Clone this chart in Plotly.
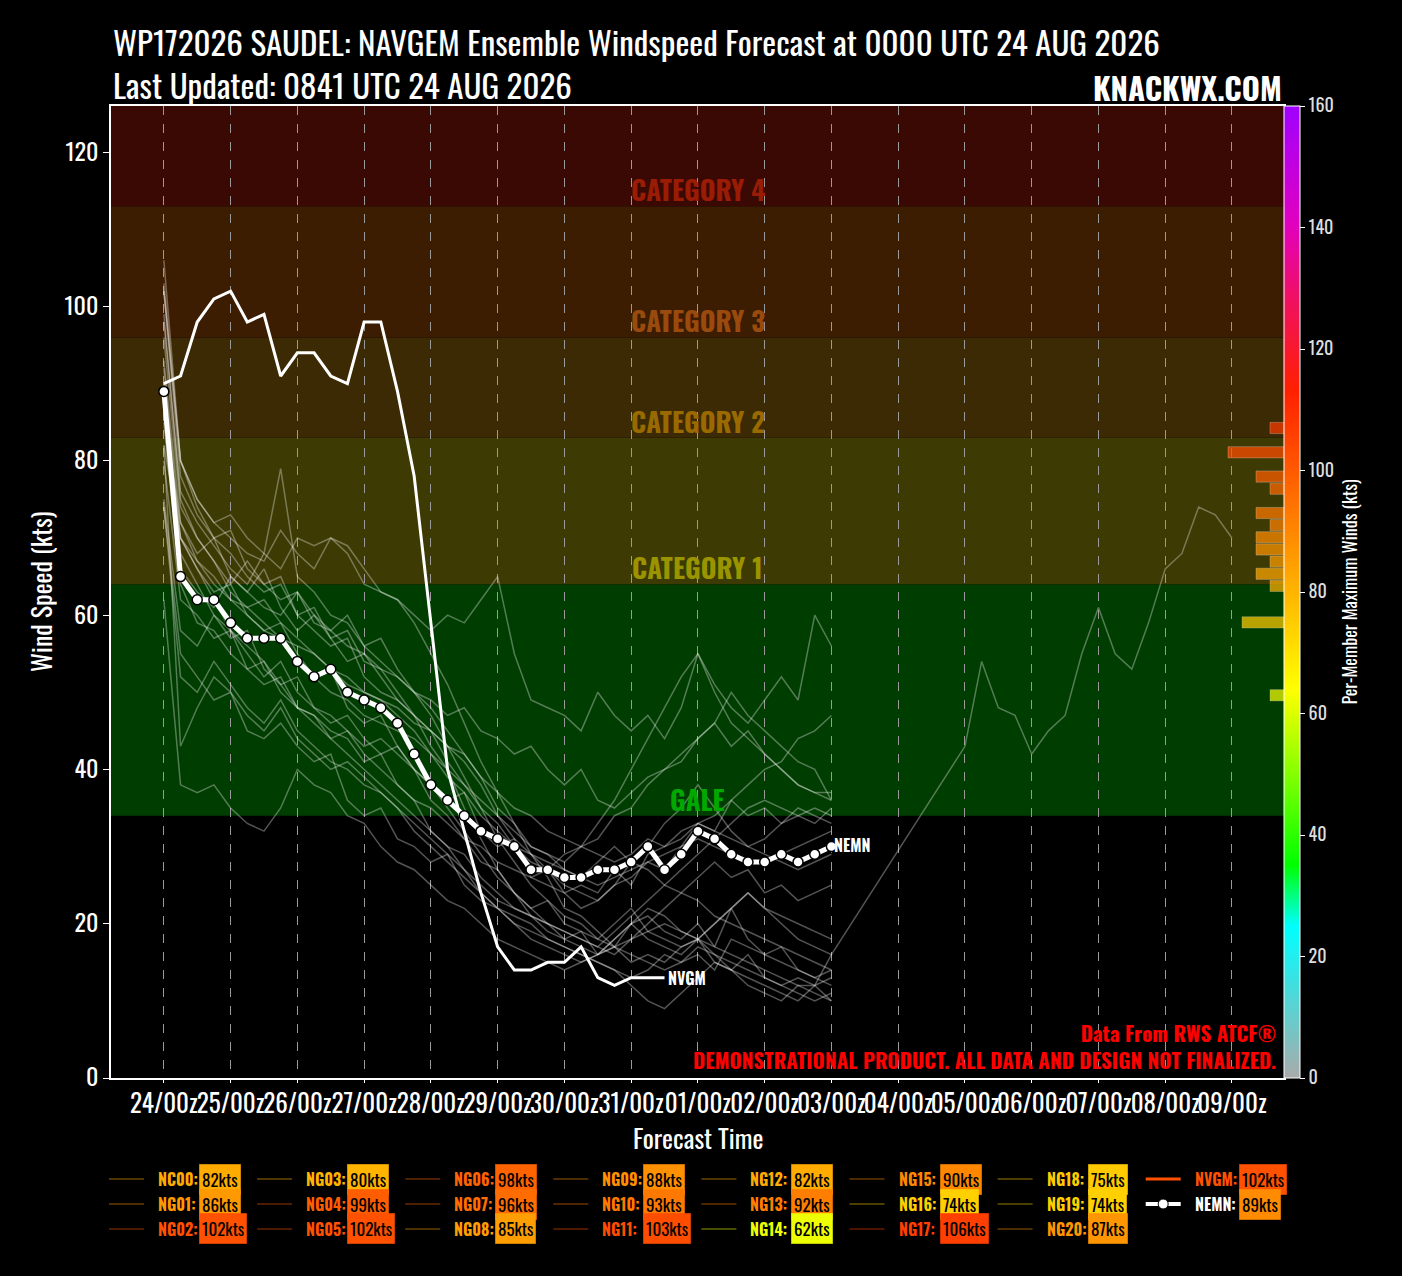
import numpy as np
import plotly.graph_objects as go
from plotly.colors import sample_colorscale

# forecast hours (6-hourly) for the ensemble members
FHR = list(range(0, 241, 6))

NC00 = [82, 70, 66, 63, 64, 60, 58, 59, 55, 52, 53, 48, 46, 47, 43, 40, 36, 34, 31, 28, 27,
        24, 22, 23, 20, 19, 18, 20, 22, 19, 18, 17, 18, 15, 14, 16, 13, 12, 13, 12, 16]
NG01 = [86, 72, 68, 70, 65, 63, 66, 61, 58, 60, 57, 54, 55, 52, 49, 47, 45, 41, 38, 35, 33,
        30, 28, 27, 24, 22, 23, 25, 26, 28, 27, 30, 33, 32, 36, 38, 40, 41, 44, 45, 47]
NG02 = [102, 78, 73, 70, 71, 66, 64, 65, 60, 61, 57, 58, 54, 53, 50, 47, 43, 40, 35, 31, 27,
        24, 21, 20, 18, 19, 16, 17, 20, 21, 19, 18, 20, 17, 22, 18, 16, 17, 14, 13, 14]
NG03 = [80, 62, 60, 57, 58, 53, 51, 52, 48, 47, 45, 44, 41, 42, 38, 36, 35, 33, 31, 30, 28,
        27, 26, 27, 29, 30, 31, 34, 35, 38, 40, 41, 44, 46, 50, 47, 45, 43, 41, 40, 36]
NG04 = [99, 75, 70, 67, 64, 67, 64, 62, 63, 59, 58, 60, 56, 54, 52, 50, 47, 43, 39, 35, 31,
        28, 25, 23, 21, 20, 18, 17, 15, 16, 15, 17, 18, 16, 14, 13, 12, 11, 10, 12, 10]
NG05 = [102, 80, 75, 72, 70, 68, 67, 71, 68, 66, 70, 69, 66, 63, 62, 59, 55, 51, 46, 41, 37,
        33, 29, 26, 22, 21, 19, 17, 16, 15, 14, 15, 16, 14, 18, 17, 16, 15, 14, 13, 12]
NG06 = [98, 76, 72, 69, 66, 64, 68, 79, 65, 63, 60, 59, 56, 57, 53, 50, 48, 45, 42, 39, 35,
        33, 30, 29, 27, 26, 28, 30, 28, 27, 25, 24, 26, 28, 26, 27, 24, 25, 23, 24, 25]
NG07 = [96, 74, 70, 67, 63, 61, 62, 59, 57, 55, 53, 51, 50, 49, 48, 46, 45, 43, 41, 38, 34,
        31, 29, 27, 25, 24, 23, 25, 28, 30, 33, 35, 38, 35, 32, 30, 31, 33, 35, 34, 33]
NG08 = [85, 64, 59, 58, 55, 53, 54, 51, 48, 47, 44, 45, 42, 40, 38, 36, 32, 30, 29, 26, 24,
        22, 21, 19, 18, 17, 16, 18, 20, 18, 17, 16, 18, 20, 22, 24, 22, 21, 20, 19, 18]
NG09 = [88, 70, 67, 64, 62, 61, 59, 57, 54, 52, 50, 49, 47, 46, 45, 44, 42, 40, 38, 36, 34,
        32, 30, 29, 28, 30, 33, 36, 40, 44, 48, 52, 55, 51, 48, 46, 49, 52, 49, 60, 56]
NG10 = [93, 72, 67, 65, 62, 60, 58, 57, 56, 55, 53, 52, 50, 49, 47, 45, 42, 39, 37, 34, 32,
        30, 29, 28, 27, 26, 25, 26, 27, 28, 29, 30, 31, 30, 29, 28, 28, 29, 30, 31, 32]
NG11 = [103, 80, 75, 72, 73, 70, 68, 66, 70, 69, 70, 68, 64, 63, 62, 60, 58, 60, 59, 62, 65,
        55, 49, 48, 47, 45, 50, 47, 45, 47, 44, 48, 55, 50, 46, 44, 42, 40, 38, 37, 36]
NG12 = [82, 43, 48, 52, 50, 47, 45, 48, 44, 42, 40, 41, 39, 37, 35, 32, 30, 28, 26, 24, 22,
        21, 20, 18, 17, 16, 15, 14, 12, 10, 9, 11, 13, 15, 14, 12, 11, 10, 12, 11, 10]
NG13 = [92, 70, 66, 62, 58, 56, 54, 50, 48, 46, 44, 42, 40, 38, 36, 34, 32, 30, 27, 24, 22,
        20, 18, 17, 16, 15, 16, 18, 20, 22, 21, 19, 18, 20, 22, 24, 22, 20, 18, 17, 16]
NG14 = [62, 38, 37, 38, 35, 33, 32, 35, 40, 38, 37, 34, 33, 30, 28, 27, 25, 23, 22, 20, 18,
        17, 16, 15, 14, 15, 16, 17, 18, 19, 20, 19, 18, 17, 16, 15, 14, 13, 12, 12, 13]
NG15 = [90, 68, 64, 60, 57, 58, 53, 51, 52, 48, 46, 47, 44, 42, 43, 40, 38, 36, 37, 32, 30,
        31, 26, 25, 24, 25, 24, 27, 25, 29, 30, 31, 33, 34, 36, 34, 35, 33, 34, 35, 34]
NG16 = [74, 55, 52, 49, 50, 45, 44, 46, 43, 41, 42, 36, 34, 35, 31, 30, 28, 29, 25, 23, 22,
        20, 19, 18, 17, 16, 15, 14, 13, 14, 16, 15, 17, 16, 15, 14, 13, 12, 11, 10, 11]
NG17 = [106, 80, 74, 70, 68, 65, 63, 64, 60, 58, 56, 57, 52, 50, 49, 47, 45, 43, 42, 39, 37,
        35, 34, 32, 31, 30, 29, 28, 29, 31, 30, 32, 33, 32, 31, 30, 29, 28, 27, 28, 29]
NG18 = [75, 58, 56, 60, 58, 55, 52, 54, 50, 48, 47, 45, 43, 44, 42, 40, 38, 35, 32, 29, 26,
        24, 22, 20, 19, 18, 17, 16, 18, 20, 22, 24, 23, 21, 20, 19, 18, 17, 16, 15, 14]
NG19 = [74, 52, 50, 54, 51, 48, 46, 49, 45, 43, 41, 40, 38, 37, 35, 33, 31, 29, 27, 25, 23,
        22, 21, 20, 19, 18, 17, 19, 21, 23, 25, 27, 29, 31, 33, 35, 36, 35, 34, 33, 35]
NG20 = [87, 66, 63, 61, 65, 63, 61, 60, 63, 60, 58, 56, 55, 53, 52, 50, 49, 47, 48, 45, 44,
        42, 43, 40, 38, 40, 36, 35, 37, 39, 40, 42, 44, 46, 43, 45, 42, 40, 38, 37, 37]

# control member runs past 240h
NC00_EXT_FHR = list(range(288, 385, 6))
NC00_EXT = [43, 54, 48, 47, 42, 45, 47, 55, 61, 55, 53, 59, 66, 68, 74, 73, 70]

NVGM_FHR = list(range(0, 181, 6))
NVGM = [90, 91, 98, 101, 102, 98, 99, 91, 94, 94, 91, 90, 98, 98, 89, 78, 59, 40, 32, 24,
        17, 14, 14, 15, 15, 17, 13, 12, 13, 13, 13]
NEMN = [89, 65, 62, 62, 59, 57, 57, 57, 54, 52, 53, 50, 49, 48, 46, 42, 38, 36, 34, 32, 31,
        30, 27, 27, 26, 26, 27, 27, 28, 30, 27, 29, 32, 31, 29, 28, 28, 29, 28, 29, 30]

MEMBER_NAMES = ["NC00", "NG01", "NG02", "NG03", "NG04", "NG05", "NG06", "NG07", "NG08",
                "NG09", "NG10", "NG11", "NG12", "NG13", "NG14", "NG15", "NG16", "NG17",
                "NG18", "NG19", "NG20"]
MEMBER_VALUES = [NC00, NG01, NG02, NG03, NG04, NG05, NG06, NG07, NG08, NG09, NG10, NG11,
                 NG12, NG13, NG14, NG15, NG16, NG17, NG18, NG19, NG20]
MEMBER_MAX = [82, 86, 102, 80, 99, 102, 98, 96, 85, 88, 93, 103, 82, 92, 62, 90, 74, 106,
              75, 74, 87]
NVGM_MAX = 102
NEMN_MAX = 89

TICK_HOURS = list(range(0, 385, 24))
TICK_LABELS = ["24/00z", "25/00z", "26/00z", "27/00z", "28/00z", "29/00z", "30/00z",
               "31/00z", "01/00z", "02/00z", "03/00z", "04/00z", "05/00z", "06/00z",
               "07/00z", "08/00z", "09/00z"]

BAND_LOW = [34, 64, 83, 96, 113]
BAND_HIGH = [64, 83, 96, 113, 200]
BAND_NAMES = ["GALE", "CATEGORY 1", "CATEGORY 2", "CATEGORY 3", "CATEGORY 4"]

# styling
FONT = "Oswald, 'Liberation Sans Narrow', 'DejaVu Sans Condensed', 'Roboto Condensed', sans-serif"
BAND_FILL = ["#003d00", "#3d3a03", "#3b2a03", "#3d1d02", "#3b0904"]
BAND_TEXT = ["#00a800", "#9a9400", "#9a6a00", "#9a4a0c", "#9a1c04"]
WIND_CS = [[0.0, "#aaaaaa"], [0.156, "#00ffff"], [0.219, "#00ff00"], [0.31, "#80ff00"],
           [0.40, "#ffff00"], [0.50, "#ffb400"], [0.625, "#ff5a00"], [0.706, "#ff2000"],
           [0.80, "#f01060"], [0.88, "#e000c0"], [1.0, "#a000ff"]]


def wind_color(v):
    return sample_colorscale(WIND_CS, [min(max(v / 160, 0), 1)])[0]


def rgba(col, a):
    r, g, b = [int(float(c)) for c in col[col.find("(") + 1:-1].split(",")]
    return f"rgba({r},{g},{b},{a})"


fig = go.Figure()

# spaghetti
for name, vals in zip(MEMBER_NAMES, MEMBER_VALUES):
    xs, ys = FHR, vals
    if name == "NC00":
        xs = FHR + NC00_EXT_FHR
        ys = vals + NC00_EXT
    fig.add_trace(go.Scatter(x=xs, y=ys, mode="lines", name=name, showlegend=False,
                             line=dict(color="rgba(255,255,255,0.33)", width=1.5),
                             hoverinfo="skip"))

fig.add_trace(go.Scatter(x=NVGM_FHR, y=NVGM, mode="lines", showlegend=False,
                         line=dict(color="white", width=3), hoverinfo="skip"))
fig.add_trace(go.Scatter(x=FHR, y=NEMN, mode="lines+markers", showlegend=False,
                         line=dict(color="white", width=5),
                         marker=dict(size=10, color="white", line=dict(color="black", width=1.5)),
                         hoverinfo="skip"))

# histogram of per-member maxima on colorbar scale
all_max = MEMBER_MAX + [NVGM_MAX, NEMN_MAX]
counts, edges = np.histogram(all_max, bins=np.arange(0, 162, 2))
centers = edges[:-1] + 1
keep = counts > 0
fig.add_trace(go.Bar(
    x=counts[keep], y=centers[keep], orientation="h", width=1.85,
    xaxis="x2", yaxis="y2", showlegend=False, opacity=0.72, hoverinfo="skip",
    marker=dict(color=centers[keep], colorscale=WIND_CS, cmin=0, cmax=160,
                line=dict(color="rgba(255,255,255,0.35)", width=1))))

# colorbar
fig.add_trace(go.Scatter(
    x=[None], y=[None], mode="markers", showlegend=False, hoverinfo="skip",
    marker=dict(color=[0], colorscale=WIND_CS, cmin=0, cmax=160, showscale=True,
                colorbar=dict(x=1.0, xanchor="left", xpad=0, y=0.5, yanchor="middle",
                              len=1, ypad=0, thickness=16, outlinecolor="white",
                              outlinewidth=1, tickvals=list(range(0, 161, 20)),
                              ticks="outside", ticklen=5, tickcolor="white",
                              tickfont=dict(family=FONT, size=18, color="#dddddd"),
                              title=dict(text="Per-Member Maximum Winds (kts)", side="right",
                                         font=dict(family=FONT, size=18, color="white")))))
)

shapes = []
annotations = []
for lo, hi, name, fill, tcol in zip(BAND_LOW, BAND_HIGH, BAND_NAMES, BAND_FILL, BAND_TEXT):
    shapes.append(dict(type="rect", xref="paper", yref="y", x0=0, x1=1, y0=lo, y1=hi,
                       fillcolor=fill, line=dict(width=0), layer="below"))
    annotations.append(dict(xref="paper", yref="y", x=0.5, y=lo, yanchor="bottom", yshift=-5,
                            text=f"<b>{name}</b>", showarrow=False,
                            font=dict(family=FONT, size=27, color=tcol)))

annotations.append(dict(x=NVGM_FHR[-1], y=NVGM[-1], xref="x", yref="y", xanchor="left",
                        xshift=1, text="<b>NVGM</b>", showarrow=False,
                        font=dict(family=FONT, size=16, color="white")))
annotations.append(dict(x=FHR[-1], y=NEMN[-1], xref="x", yref="y", xanchor="left",
                        xshift=1, yshift=2, text="<b>NEMN</b>", showarrow=False,
                        font=dict(family=FONT, size=16, color="white")))

# titles
PL, PR, PT, PB = 111, 1284, 106, 1078


def px(x):
    return (x - PL) / (PR - PL)


def py(y):
    return (PB - y) / (PB - PT)


annotations += [
    dict(xref="paper", yref="paper", x=0, y=py(41), xanchor="left", yanchor="middle",
         text="WP172026 SAUDEL: NAVGEM Ensemble Windspeed Forecast at 0000 UTC 24 AUG 2026",
         showarrow=False, font=dict(family=FONT, size=33, color="white")),
    dict(xref="paper", yref="paper", x=0, y=py(84), xanchor="left", yanchor="middle",
         text="Last Updated: 0841 UTC 24 AUG 2026",
         showarrow=False, font=dict(family=FONT, size=33, color="white")),
    dict(xref="paper", yref="paper", x=1, y=py(87), xanchor="right", yanchor="middle",
         text="<b>KNACKWX.COM</b>", showarrow=False,
         font=dict(family=FONT, size=31, color="white")),
    dict(xref="paper", yref="paper", x=px(40), y=0.5, xanchor="center", yanchor="middle",
         textangle=-90, text="Wind Speed (kts)", showarrow=False,
         font=dict(family=FONT, size=26, color="white")),
    dict(xref="paper", yref="paper", x=0.5, y=py(1137), yanchor="middle",
         text="Forecast Time", showarrow=False,
         font=dict(family=FONT, size=26, color="white")),
    dict(xref="paper", yref="paper", x=px(1278), y=py(1046), xanchor="right",
         yanchor="middle", align="right",
         text="<b>Data From RWS ATCF®<br>DEMONSTRATIONAL PRODUCT. ALL DATA AND DESIGN NOT FINALIZED.</b>",
         showarrow=False, font=dict(family=FONT, size=21, color="#ff0000")),
]

# hand-built legend
legend_items = [(n, m, "member") for n, m in zip(MEMBER_NAMES, MEMBER_MAX)]
legend_items += [("NVGM", NVGM_MAX, "nvgm"), ("NEMN", NEMN_MAX, "nemn")]
row_y = [1179, 1204, 1229]
for i, (name, mx, kind) in enumerate(legend_items):
    col, row = divmod(i, 3)
    x0 = 109 + 148.1 * col
    yy = py(row_y[row])
    c = wind_color(mx)
    if kind == "member":
        shapes.append(dict(type="line", xref="paper", yref="paper", x0=px(x0), x1=px(x0 + 35),
                           y0=yy, y1=yy, line=dict(color=rgba(c, 0.3), width=2)))
    elif kind == "nvgm":
        shapes.append(dict(type="line", xref="paper", yref="paper", x0=px(x0), x1=px(x0 + 35),
                           y0=yy, y1=yy, line=dict(color=c, width=3)))
    else:
        shapes.append(dict(type="line", xref="paper", yref="paper", x0=px(x0), x1=px(x0 + 35),
                           y0=yy, y1=yy, line=dict(color="white", width=4)))
        shapes.append(dict(type="circle", xref="paper", yref="paper", xsizemode="pixel",
                           ysizemode="pixel", xanchor=px(x0 + 17.5), yanchor=yy,
                           x0=-5, x1=5, y0=-5, y1=5, fillcolor="white",
                           line=dict(color="black", width=1)))
    name_col = "white" if kind == "nemn" else c
    annotations.append(dict(xref="paper", yref="paper", x=px(x0 + 47), y=yy, xanchor="left",
                            yanchor="middle", text=f"<b>{name}:</b>", showarrow=False,
                            font=dict(family=FONT, size=16, color=name_col)))
    bx = x0 + (93 if kind != "member" else 90)
    annotations.append(dict(xref="paper", yref="paper", x=px(bx), y=yy, xanchor="left",
                            yanchor="middle", text=f"{mx}kts", showarrow=False,
                            bgcolor=c, bordercolor=rgba(c, 0.6), borderwidth=1, borderpad=2,
                            font=dict(family=FONT, size=17, color="black")))

fig.update_layout(
    width=1402, height=1276,
    margin=dict(l=PL, r=1402 - PR, t=PT, b=1276 - PB),
    paper_bgcolor="black", plot_bgcolor="black",
    font=dict(family=FONT, color="white"),
    showlegend=False,
    shapes=shapes, annotations=annotations,
    xaxis=dict(range=[-19, 402.7], tickvals=TICK_HOURS, ticktext=TICK_LABELS, tickangle=0,
               showgrid=True, gridcolor="#9a9a9a", gridwidth=1, griddash="dash",
               zeroline=False, showline=True, linecolor="white", linewidth=1.5, mirror=True,
               ticks="outside", ticklen=3, tickcolor="white",
               tickfont=dict(family=FONT, size=25, color="white")),
    yaxis=dict(range=[0, 126], tickvals=list(range(0, 121, 20)), showgrid=False,
               zeroline=False, showline=True, linecolor="white", linewidth=1.5, mirror=True,
               ticks="outside", ticklen=6, tickcolor="white",
               tickfont=dict(family=FONT, size=24, color="white")),
    xaxis2=dict(overlaying="x", range=[(PR - PL) / 14, 0], visible=False),
    yaxis2=dict(overlaying="y", range=[0, 160], visible=False),
)

fig.write_html("out.html", config={"displayModeBar": False},
               post_script="document.body.style.margin='0';"
                           "document.body.style.background='black';")
